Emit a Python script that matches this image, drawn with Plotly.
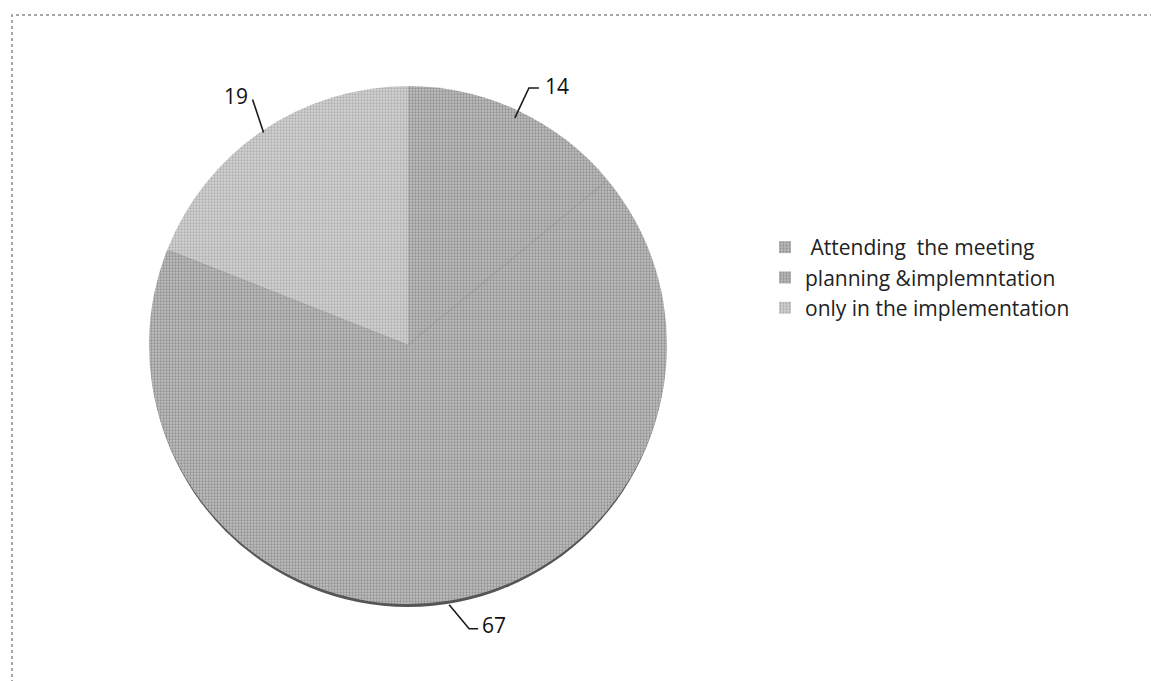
import math
import plotly.graph_objects as go

# Survey shares of community participation
categories = ["\u00a0Attending\u00a0\u00a0the meeting", "planning &implemntation", "only in the implementation"]
values = [14, 67, 19]

W, H = 1151, 681
cx, cy, R = 408, 345, 259  # pie centre and radius in page pixels

fills = ["#bebebe", "#bebebe", "#d4d4d4"]
dots = ["#656565", "#656565", "#888888"]


def px(x):
    return x / W


def py(y):
    return 1 - y / H


fig = go.Figure()
fig.add_trace(go.Pie(
    labels=categories,
    values=values,
    sort=False,
    direction="clockwise",
    rotation=0,
    textinfo="none",
    hoverinfo="label+value",
    marker=dict(
        colors=fills,
        line=dict(color="#bebebe", width=0),
        pattern=dict(shape=["."] * 3, size=3, solidity=0.45,
                     fgcolor=dots, bgcolor=fills, fillmode="overlay"),
    ),
    domain=dict(x=[px(cx - R), px(cx + R)], y=[py(cy + R), py(cy - R)]),
))

shapes = []
annotations = []

# soft shadow under the pie rim
shapes.append(dict(type="circle", xref="paper", yref="paper", layer="below",
                   x0=px(cx - R + 1), x1=px(cx + R - 1),
                   y0=py(cy + R + 3), y1=py(cy - R + 3),
                   fillcolor="#555555", line=dict(width=0)))

# data labels with leader lines, placed at each slice's mid angle
total = sum(values)
cum = 0
for i, v in enumerate(values):
    mid = (cum + v / 2) / total * 2 * math.pi
    cum += v
    sx, sy = math.sin(mid), -math.cos(mid)
    if sy < 0 and sx > 0:
        x0, y0 = cx + sx * (R - 8), cy + sy * (R - 8)
        x1, y1 = cx + sx * (R + 25), cy + sy * (R + 25)
        pts = [(x0, y0), (x1, y1), (x1 + 10, y1)]
        tx, ty, anchor = x1 + 14, y1 - 2, "left"
    elif sy < 0:
        x0, y0 = cx + sx * (R - 2), cy + sy * (R - 2)
        x1, y1 = x0 - 11, y0 - 33
        pts = [(x0, y0), (x1, y1)]
        tx, ty, anchor = x1 - 3, y1 - 3, "right"
    else:
        x0, y0 = cx + sx * (R + 4), cy + sy * (R + 4)
        x1, y1 = x0 + 20, y0 + 24
        pts = [(x0, y0), (x1, y1), (x1 + 9, y1)]
        tx, ty, anchor = x1 + 11, y1 - 4, "left"
    path = "M " + " L ".join(f"{px(a):.5f},{py(b):.5f}" for a, b in pts)
    shapes.append(dict(type="path", xref="paper", yref="paper", path=path,
                       line=dict(color="#1a1a1a", width=1.6)))
    annotations.append(dict(xref="paper", yref="paper", x=px(tx), y=py(ty),
                            text=str(v), showarrow=False, xanchor=anchor,
                            yanchor="middle",
                            font=dict(size=21, color="#111111")))

# dotted frame of the chart area
shapes.append(dict(type="rect", xref="paper", yref="paper",
                   x0=px(12), x1=px(1170), y0=py(700), y1=py(15),
                   line=dict(color="#8c8c8c", width=1.5, dash="dot")))

fig.update_layout(
    width=W, height=H,
    margin=dict(l=0, r=0, t=0, b=0),
    paper_bgcolor="white",
    plot_bgcolor="white",
    font=dict(family="Open Sans, sans-serif", color="#222222"),
    showlegend=True,
    legend=dict(x=px(765), y=py(227), xanchor="left", yanchor="top",
                font=dict(size=21, family="Open Sans, sans-serif", color="#222222"),
                itemwidth=30, bgcolor="rgba(0,0,0,0)"),
    shapes=shapes,
    annotations=annotations,
)

fig.write_html("out.html")
